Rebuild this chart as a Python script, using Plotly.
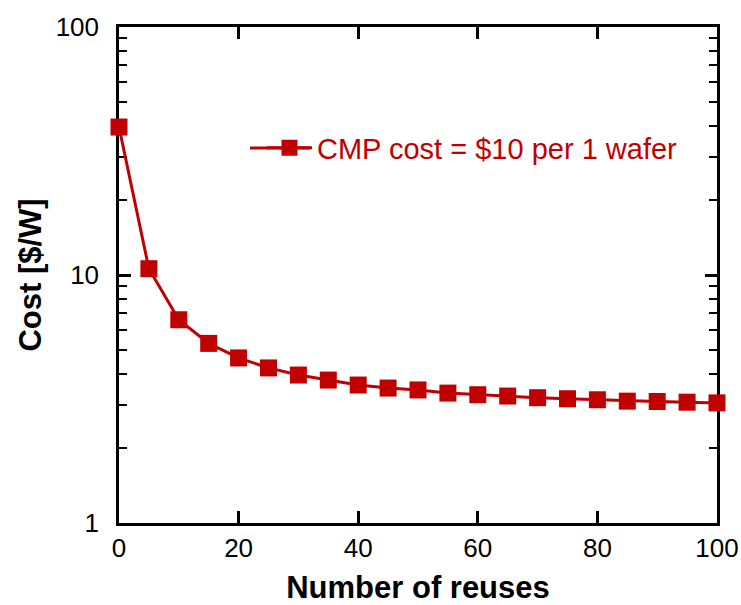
import plotly.graph_objects as go

# Cost per watt versus number of wafer reuses
reuses = [0, 5, 10, 15, 20, 25, 30, 35, 40, 45, 50,
          55, 60, 65, 70, 75, 80, 85, 90, 95, 100]
cost = [39.5, 10.6, 6.6, 5.3, 4.63, 4.22, 3.95, 3.77, 3.6, 3.5, 3.44,
        3.34, 3.29, 3.25, 3.2, 3.17, 3.14, 3.1, 3.09, 3.07, 3.05]
series_name = "CMP cost = $10 per 1 wafer"

x_ticks = [0, 20, 40, 60, 80, 100]
y_ticks = [1, 10, 100]
y_minor = [2, 3, 4, 5, 6, 7, 8, 9, 20, 30, 40, 50, 60, 70, 80, 90]

RED = "#C00000"
FONT = "Liberation Sans, Arial, sans-serif"

fig = go.Figure()
fig.add_trace(go.Scatter(
    x=reuses, y=cost, name=series_name, mode="lines+markers",
    line=dict(color=RED, width=3),
    marker=dict(symbol="square", size=17, color=RED),
    cliponaxis=False,
))

axis_common = dict(
    showline=True, linecolor="black", linewidth=2.5, mirror="ticks",
    ticks="inside", ticklen=12, tickwidth=2.5, tickcolor="black",
    showgrid=False, zeroline=False, layer="below traces",
    automargin=False,
    tickfont=dict(family=FONT, size=26, color="black"),
)

fig.update_layout(
    width=741, height=605,
    margin=dict(l=119, r=24, t=27, b=82),
    paper_bgcolor="white", plot_bgcolor="white",
    font=dict(family=FONT, color="black"),
    showlegend=True,
    legend=dict(
        x=(262 - 119) / 598, xanchor="left",
        y=(523 - 148) / 496, yanchor="middle",
        bgcolor="rgba(0,0,0,0)", itemwidth=45,
        font=dict(family=FONT, size=29, color=RED),
    ),
    xaxis=dict(
        range=[0, 100], tickvals=x_ticks,
        ticklabelstandoff=0,
        title=dict(text="<b>Number of reuses</b>", standoff=22,
                   font=dict(family=FONT, size=31, color="black")),
        **axis_common,
    ),
    yaxis=dict(
        type="log", range=[0, 2], tickvals=y_ticks,
        ticktext=[str(v) for v in y_ticks],
        ticklabelstandoff=12,
        minor=dict(tickvals=y_minor, ticks="inside", ticklen=8,
                   tickwidth=2, tickcolor="black", showgrid=False),
        title=dict(text="<b>Cost [$/W]</b>", standoff=5,
                   font=dict(family=FONT, size=31, color="black")),
        **axis_common,
    ),
)

# Longer legend stroke behind the legend symbol
fig.add_shape(type="line", xref="paper", yref="paper",
              x0=(250 - 119) / 598, x1=(310 - 119) / 598,
              y0=(523 - 148) / 496, y1=(523 - 148) / 496,
              line=dict(color=RED, width=3))

fig.write_html("out.html")
